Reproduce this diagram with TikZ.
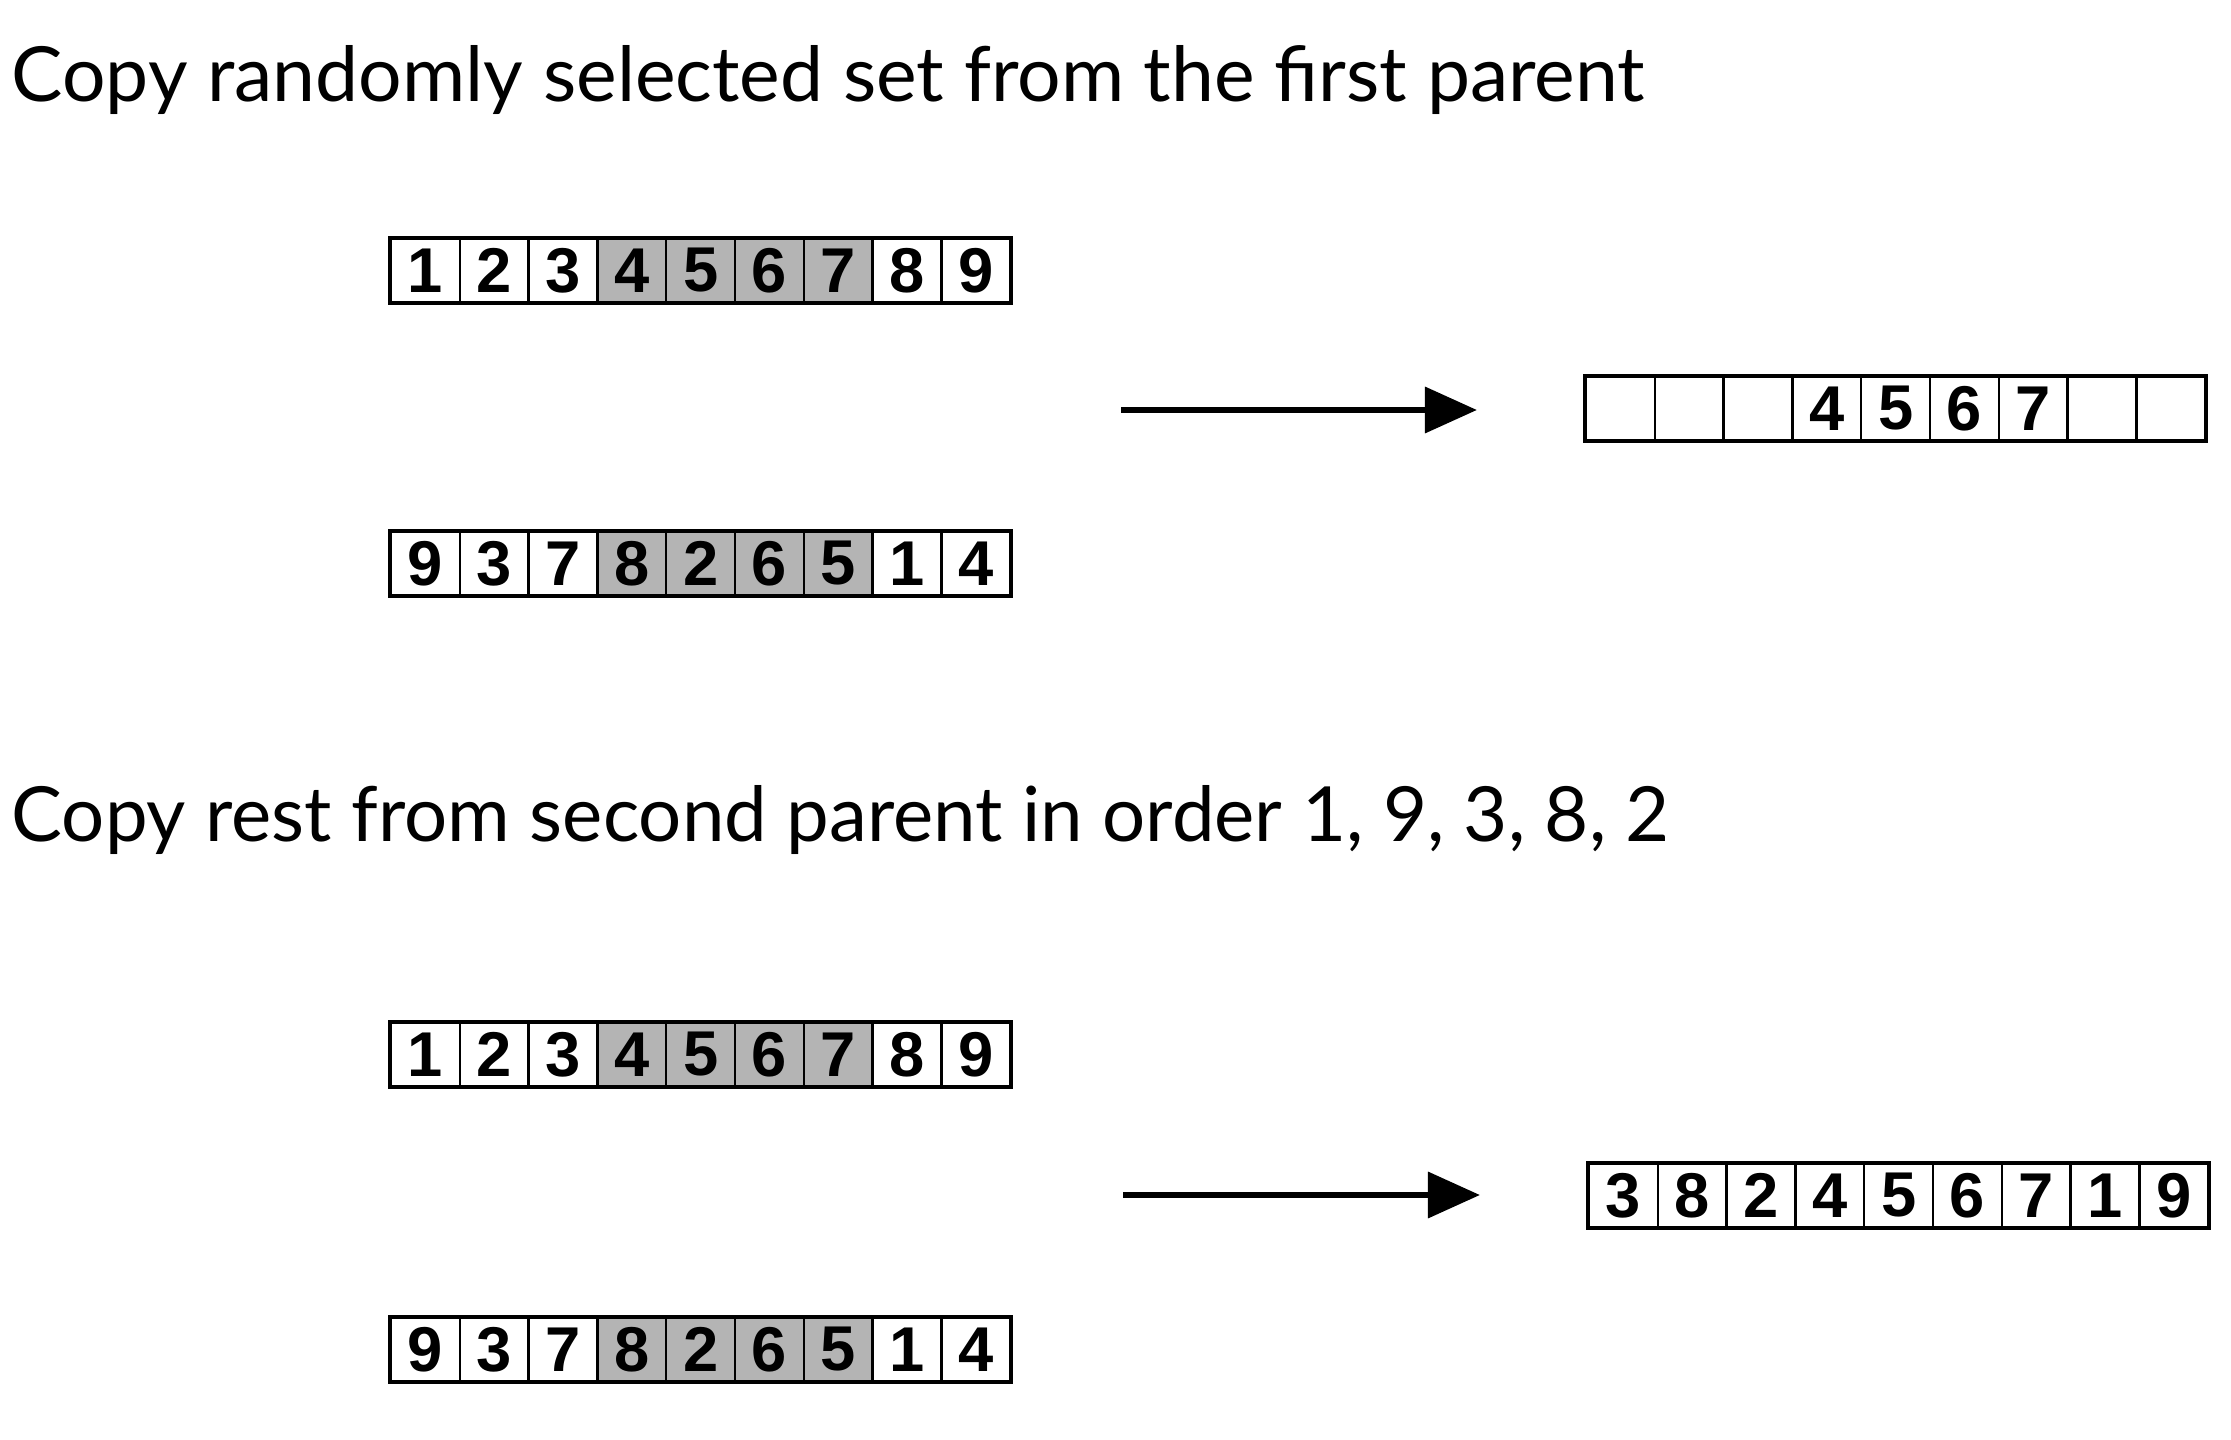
\documentclass[tikz,border=0pt]{standalone}
\usepackage{fontspec}
\setmainfont{Lato}
\newfontfamily\digitfont{Liberation Sans}
\usetikzlibrary{arrows.meta}
\definecolor{selgrey}{RGB}{180,180,180}
\tikzset{
  cell/.style={draw=black, line width=0.7pt, minimum width=0.688cm, minimum height=0.63cm,
    inner sep=0pt, font=\digitfont\bfseries\fontsize{18}{18}\selectfont},
  rowframe/.style={draw=black, line width=0.9pt},
  bigarrow/.style={line width=1.9pt, -{Triangle[length=0.52cm,width=0.45cm]}},
  title/.style={anchor=base west, inner sep=0pt}
}
\newcommand\cellrow[4]{%
  \foreach [count=\i] \d/\f in {#4} {
    \node[cell, fill=\f] (#1-\i) at ({#2+(\i-0.5)*68.8},{#3+31.5}) {\d};
  }
  \draw[rowframe] (#1-1.north west) rectangle (#1-9.south east);
}
\begin{document}
\begin{tikzpicture}[x=0.01cm, y=-0.01cm]
\useasboundingbox[fill=white] (0,0) rectangle (2231,1440);

\node[title] (t1) at (11,102) {\resizebox{16.32cm}{0.56cm}{Copy randomly selected set from the first parent}};
\node[title] (t2) at (11,841) {\resizebox{16.57cm}{0.56cm}{Copy rest from second parent in order 1, 9, 3, 8, 2}};

% section 1
\cellrow{pa}{391}{239}{1/white,2/white,3/white,4/selgrey,5/selgrey,6/selgrey,7/selgrey,8/white,9/white}
\cellrow{pb}{391}{532}{9/white,3/white,7/white,8/selgrey,2/selgrey,6/selgrey,5/selgrey,1/white,4/white}
\cellrow{ca}{1586}{377}{{}/white,{}/white,{}/white,4/white,5/white,6/white,7/white,{}/white,{}/white}
\coordinate (a1s) at (1121,410);
\coordinate (a1e) at (1477,410);
\draw[bigarrow] (a1s) -- (a1e);

% section 2
\cellrow{qa}{391}{1023}{1/white,2/white,3/white,4/selgrey,5/selgrey,6/selgrey,7/selgrey,8/white,9/white}
\cellrow{qb}{391}{1318}{9/white,3/white,7/white,8/selgrey,2/selgrey,6/selgrey,5/selgrey,1/white,4/white}
\cellrow{cb}{1589}{1164}{3/white,8/white,2/white,4/white,5/white,6/white,7/white,1/white,9/white}
\coordinate (a2s) at (1123,1195);
\coordinate (a2e) at (1480,1195);
\draw[bigarrow] (a2s) -- (a2e);
\end{tikzpicture}
\end{document}
